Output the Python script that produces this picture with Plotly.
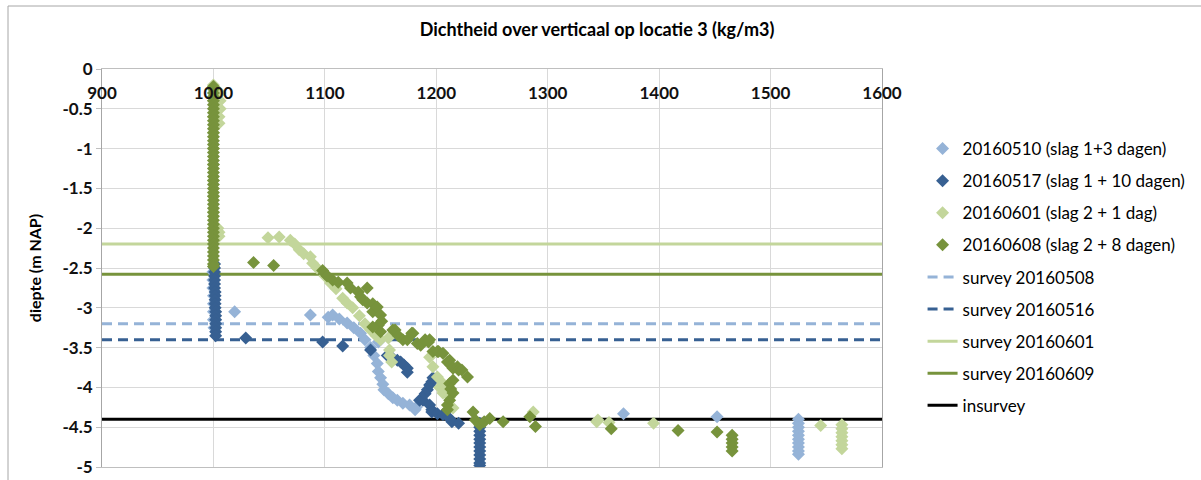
import plotly.graph_objects as go

title = "Dichtheid over verticaal op locatie 3 (kg/m3)"
y_title = "diepte (m NAP)"
x_ticks = [900, 1000, 1100, 1200, 1300, 1400, 1500, 1600]
y_ticks = [0, -0.5, -1, -1.5, -2, -2.5, -3, -3.5, -4, -4.5, -5]
y_ticklabels = ["0", "-0.5", "-1", "-1.5", "-2", "-2.5", "-3", "-3.5", "-4", "-4.5", "-5"]

names_pts = ["20160510 (slag 1+3 dagen)", "20160517 (slag 1 + 10 dagen)",
             "20160601 (slag 2 + 1 dag)", "20160608 (slag 2 + 8 dagen)"]

# 20160510
s1_x = [999.5, 999.5, 999.5, 1000, 1000, 1000, 1000, 1000.5,
        1019, 1087,
        1103, 1107, 1113, 1120, 1126, 1132, 1136, 1141, 1144, 1147, 1148, 1150, 1152, 1153,
        1157, 1161, 1165, 1170, 1176, 1182, 1181, 1148,
        1368, 1452,
        1525, 1525, 1525, 1525, 1525, 1525, 1525, 1525, 1525, 1525]
s1_y = [-2.55, -2.65, -2.75, -2.85, -2.95, -3.05, -3.15, -3.25,
        -3.05, -3.09,
        -3.12, -3.09, -3.14, -3.19, -3.25, -3.32, -3.4, -3.5, -3.6, -3.7, -3.8, -3.88, -3.96, -4.03,
        -4.08, -4.13, -4.16, -4.2, -4.22, -4.25, -4.28, -3.43,
        -4.33, -4.37,
        -4.4, -4.45, -4.5, -4.55, -4.6, -4.65, -4.7, -4.75, -4.8, -4.84]

# 20160517
s2_x = [1001, 1001, 1001, 1001, 1001, 1001, 1001, 1001.5, 1001.5, 1001.5, 1001.5, 1001.5,
        1002, 1002, 1002, 1002, 1002, 1002, 1002,
        1029, 1098, 1116,
        1141, 1156, 1160, 1165, 1168, 1171, 1174, 1174,
        1185, 1188, 1190, 1192, 1194, 1196, 1197, 1194, 1196,
        1196, 1201, 1206, 1212, 1214, 1220,
        1239, 1239, 1239, 1239, 1239, 1239, 1239, 1239, 1239, 1239, 1239, 1239]
s2_y = [-2.45, -2.5, -2.55, -2.6, -2.65, -2.7, -2.75, -2.8, -2.85, -2.9, -2.95, -3.0,
        -3.05, -3.1, -3.15, -3.2, -3.25, -3.3, -3.35,
        -3.38, -3.43, -3.48,
        -3.53, -3.6, -3.62, -3.66, -3.68, -3.72, -3.76, -3.81,
        -4.16, -4.16, -4.08, -4.03, -3.97, -3.93, -3.88, -4.22, -4.28,
        -4.31, -4.33, -4.34, -4.39, -4.43, -4.45,
        -4.45, -4.5, -4.55, -4.6, -4.65, -4.7, -4.75, -4.8, -4.85, -4.9, -4.95, -4.98]

# 20160601
s3_x = [1000, 1000, 1000, 1000, 1000, 1000, 1000, 1000, 1000, 1000,
        1006, 1006, 1006, 1005, 1005, 1004, 1005, 1005,
        1049, 1059, 1069, 1073, 1077, 1081, 1087, 1089, 1093, 1100, 1105, 1110, 1116, 1120,
        1125, 1131, 1136, 1141, 1146, 1150, 1157, 1158, 1158, 1160,
        1194, 1197, 1201, 1203, 1206, 1206, 1209, 1212, 1215,
        1287, 1344, 1345, 1355, 1395, 1545,
        1564, 1564, 1564, 1564, 1564, 1564, 1564]
s3_y = [-0.2, -0.4, -0.6, -0.8, -1.0, -1.2, -1.4, -1.6, -1.8, -2.0,
        -0.3, -0.4, -0.5, -0.6, -0.68, -2.0, -2.05, -2.1,
        -2.12, -2.11, -2.15, -2.2, -2.27, -2.32, -2.36, -2.44, -2.5, -2.6, -2.69, -2.76, -2.88, -2.94,
        -3.0, -3.1, -3.2, -3.28, -3.35, -3.4, -3.38, -3.53, -3.6, -3.68,
        -3.62, -3.74, -3.87, -4.0, -4.07, -3.95, -4.03, -4.12, -4.26,
        -4.31, -4.43, -4.41, -4.44, -4.45, -4.48,
        -4.47, -4.52, -4.57, -4.62, -4.67, -4.72, -4.77]

# 20160608
s4_x = [1000, 1000, 1000, 1000, 1000, 1000, 1000, 1000, 1000, 1000, 1000, 1000,
        1000, 1000, 1000, 1000, 1000, 1000, 1000, 1000, 1000, 1000, 1000, 1000,
        1000, 1000, 1000, 1000, 1000, 1000, 1000, 1000, 1000, 1000, 1000, 1000,
        1000, 1000, 1000, 1000, 1000, 1000, 1000, 1000, 1000, 1000, 1000,
        1036, 1054,
        1098, 1100, 1102, 1107, 1112, 1120, 1123, 1130, 1132, 1138, 1134, 1138, 1143, 1143,
        1147, 1150, 1151, 1148, 1150, 1143, 1161, 1163, 1166, 1170, 1174, 1179, 1178, 1183,
        1186, 1190, 1194, 1193, 1197, 1201, 1202, 1206, 1210, 1212, 1213, 1215, 1219, 1220,
        1223, 1228, 1212, 1215, 1213, 1215, 1212, 1210, 1210,
        1233, 1235, 1239, 1243, 1248, 1260, 1284, 1289,
        1357, 1417, 1452,
        1465.5, 1465.5, 1465.5, 1465.5, 1465.5]
s4_y = [-0.22, -0.25, -0.3, -0.35, -0.4, -0.45, -0.5, -0.55, -0.6, -0.65, -0.7, -0.75,
        -0.8, -0.85, -0.9, -0.95, -1.0, -1.05, -1.1, -1.15, -1.2, -1.25, -1.3, -1.35,
        -1.4, -1.45, -1.5, -1.55, -1.6, -1.65, -1.7, -1.75, -1.8, -1.85, -1.9, -1.95,
        -2.0, -2.05, -2.1, -2.15, -2.2, -2.25, -2.3, -2.35, -2.4, -2.45, -2.48,
        -2.43, -2.47,
        -2.53, -2.57, -2.6, -2.65, -2.68, -2.69, -2.75, -2.8, -2.86, -2.75, -2.9, -2.94, -2.95, -3.05,
        -2.99, -3.09, -3.17, -3.22, -3.3, -3.24, -3.28, -3.28, -3.35, -3.4, -3.4, -3.32, -3.32, -3.45,
        -3.47, -3.4, -3.4, -3.43, -3.55, -3.55, -3.55, -3.57, -3.68, -3.66, -3.72, -3.76, -3.74, -3.78,
        -3.78, -3.87, -3.95, -3.91, -4.02, -4.07, -4.16, -4.22, -4.28,
        -4.31, -4.41, -4.47, -4.43, -4.39, -4.43, -4.37, -4.49,
        -4.52, -4.54, -4.56,
        -4.6, -4.65, -4.7, -4.75, -4.8]

pt_colors = ["#95B3D7", "#376092", "#C3D69B", "#77933C"]

survey_names = ["survey 20160508", "survey 20160516", "survey 20160601", "survey 20160609", "insurvey"]
survey_levels = [-3.2, -3.4, -2.2, -2.58, -4.4]
survey_colors = ["#95B3D7", "#376092", "#C3D69B", "#77933C", "#000000"]
survey_dash = ["10px,6px", "10px,6px", "solid", "solid", "solid"]
x_span = [900, 1600]

fig = go.Figure()

for i, (nm, lvl, col, dsh) in enumerate(zip(survey_names, survey_levels, survey_colors, survey_dash)):
    fig.add_trace(go.Scatter(
        x=x_span, y=[lvl, lvl], mode="lines", name=nm,
        line=dict(color=col, width=3, dash=dsh),
        legendgroup=nm, legendrank=10 + i, showlegend=True))

for i, (nm, xs, ys, col) in enumerate(zip(names_pts, [s1_x, s2_x, s3_x, s4_x],
                                           [s1_y, s2_y, s3_y, s4_y], pt_colors)):
    fig.add_trace(go.Scatter(
        x=xs, y=ys, mode="markers", name=nm,
        marker=dict(symbol="diamond", size=10, color=col, line=dict(width=0)),
        legendgroup=nm, legendrank=1 + i))

fnt = "Lato, 'Open Sans', sans-serif"
fig.update_layout(
    width=1201, height=480,
    margin=dict(l=102, r=319, t=69, b=13, autoexpand=False),
    paper_bgcolor="white", plot_bgcolor="white",
    title=dict(text="<b>" + title + "</b>", x=597 / 1201, xanchor="center", y=1 - 30 / 480, yanchor="middle",
               font=dict(family=fnt, size=18, color="#000000")),
    font=dict(family=fnt, color="#000000"),
    showlegend=True,
    legend=dict(x=1.052, xanchor="left", y=(467 - 131) / 398, yanchor="top",
                font=dict(family=fnt, size=17, color="#000000"),
                tracegroupgap=7, bgcolor="rgba(0,0,0,0)"),
    xaxis=dict(range=[900, 1600], side="top", tickvals=x_ticks, ticktext=[str(v) for v in x_ticks],
               ticklabelposition="inside", ticklabeloverflow="allow", ticklabelstandoff=19,
               showgrid=True, gridcolor="#D9D9D9", gridwidth=1, automargin=False,
               showline=True, linecolor="#BFBFBF", mirror=True, zeroline=False,
               tickfont=dict(family=fnt, size=17, color="#111111", weight="bold"), ticks=""),
    yaxis=dict(range=[-5, 0], tickvals=y_ticks, ticktext=y_ticklabels, showgrid=True,
               gridcolor="#D9D9D9", gridwidth=1, showline=True, linecolor="#A6A6A6", mirror=True,
               zeroline=False, ticks="outside", ticklen=5, tickcolor="#BFBFBF",
               ticklabeloverflow="allow", automargin=False,
               tickfont=dict(family=fnt, size=17, color="#111111", weight="bold"),
               title=dict(text="<b>" + y_title + "</b>", standoff=16,
                          font=dict(family=fnt, size=16, color="#000000"))),
    shapes=[dict(type="rect", xref="paper", yref="paper",
                 x0=(8 - 102) / 780, x1=(1400 - 102) / 780, y0=-0.2, y1=1 + (69 - 6) / 398,
                 line=dict(color="#A6A6A6", width=1), fillcolor="rgba(0,0,0,0)", layer="below")],
)

fig.write_html("out.html")
